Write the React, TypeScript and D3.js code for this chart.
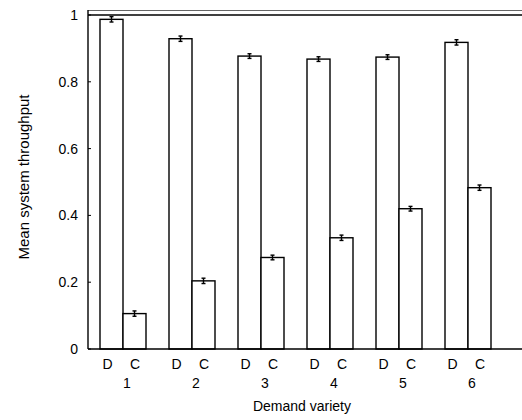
import React, { useEffect, useRef } from 'react';
import * as d3 from 'd3';

const varieties = ['1', '2', '3', '4', '5', '6'];
const modes = ['D', 'C'];
const meanD = [0.987, 0.929, 0.877, 0.868, 0.874, 0.918];
const meanC = [0.106, 0.204, 0.274, 0.333, 0.420, 0.483];
const errD = [0.008, 0.008, 0.007, 0.007, 0.007, 0.008];
const errC = [0.008, 0.008, 0.007, 0.008, 0.007, 0.008];
const yTicks = [0, 0.2, 0.4, 0.6, 0.8, 1];

const W = 522;
const H = 420;
const FONT = '"Liberation Sans", Arial, Helvetica, sans-serif';

const App = () => {
  const ref = useRef<SVGSVGElement>(null);

  useEffect(() => {
    const svg = d3.select(ref.current);
    svg.selectAll('*').remove();

    const axisX = 88;
    const frameTop = 10;

    const y = d3.scaleLinear().domain([0, 1]).range([349, 15]);
    const x0 = d3.scaleBand().domain(varieties).range([100, 491]).paddingInner(1 / 3).paddingOuter(0);
    const x1 = d3.scaleBand().domain(modes).range([0, x0.bandwidth()]);

    const rows = varieties.flatMap((v, i) => [
      { v, m: 'D', val: meanD[i], err: errD[i] },
      { v, m: 'C', val: meanC[i], err: errC[i] },
    ]);

    // bars
    svg.append('g')
      .selectAll('rect')
      .data(rows)
      .enter()
      .append('rect')
      .attr('x', d => x0(d.v)! + x1(d.m)!)
      .attr('y', d => y(d.val))
      .attr('width', x1.bandwidth())
      .attr('height', d => y(0) - y(d.val))
      .attr('fill', '#fff')
      .attr('stroke', '#000')
      .attr('stroke-width', 1.4);

    // error bars
    const eb = svg.append('g').attr('stroke', '#000').attr('stroke-width', 1.4);
    rows.forEach(d => {
      const cx = x0(d.v)! + x1(d.m)! + x1.bandwidth() / 2;
      eb.append('line').attr('x1', cx).attr('x2', cx).attr('y1', y(d.val - d.err)).attr('y2', y(d.val + d.err));
      eb.append('line').attr('x1', cx - 2).attr('x2', cx + 2).attr('y1', y(d.val - d.err)).attr('y2', y(d.val - d.err));
      eb.append('line').attr('x1', cx - 2).attr('x2', cx + 2).attr('y1', y(d.val + d.err)).attr('y2', y(d.val + d.err));
    });

    // frame / axes
    svg.append('line').attr('x1', axisX).attr('x2', W).attr('y1', frameTop + 0.5).attr('y2', frameTop + 0.5)
      .attr('stroke', '#666').attr('stroke-width', 1);
    svg.append('line').attr('x1', axisX).attr('x2', W).attr('y1', y(1)).attr('y2', y(1))
      .attr('stroke', '#000').attr('stroke-width', 1.3);
    svg.append('line').attr('x1', axisX).attr('x2', axisX).attr('y1', frameTop).attr('y2', y(0))
      .attr('stroke', '#000').attr('stroke-width', 1.4);
    svg.append('line').attr('x1', axisX).attr('x2', W).attr('y1', y(0)).attr('y2', y(0))
      .attr('stroke', '#000').attr('stroke-width', 1.6);

    // y ticks
    const yt = svg.append('g').attr('font-family', FONT).attr('font-size', 14);
    yTicks.forEach(t => {
      yt.append('line').attr('x1', axisX).attr('x2', axisX + 3).attr('y1', y(t)).attr('y2', y(t))
        .attr('stroke', '#000').attr('stroke-width', 1);
      yt.append('text').attr('x', 78).attr('y', y(t)).attr('dy', '0.36em')
        .attr('text-anchor', 'end').text(d3.format('~g')(t));
    });

    // x labels
    const xt = svg.append('g').attr('font-family', FONT).attr('font-size', 14).attr('text-anchor', 'middle');
    varieties.forEach(v => {
      const gx = x0(v)!;
      xt.append('text').attr('x', gx + x1('D')! + x1.bandwidth() / 2 - 4).attr('y', 369).text('D');
      xt.append('text').attr('x', gx + x1('C')! + x1.bandwidth() / 2 + 0.5).attr('y', 369).text('C');
      xt.append('text').attr('x', gx + x0.bandwidth() / 2 + 4).attr('y', 388).text(v);
    });

    svg.append('text').attr('x', 302).attr('y', 411).attr('text-anchor', 'middle')
      .attr('font-family', FONT).attr('font-size', 14).text('Demand variety');

    svg.append('text').attr('transform', 'translate(29,177) rotate(-90)').attr('text-anchor', 'middle')
      .attr('font-family', FONT).attr('font-size', 15).text('Mean system throughput');
  }, []);

  return (
    <svg ref={ref} width={W} height={H} style={{ position: 'absolute', left: 0, top: 0, background: '#fff' }} />
  );
};

export default App;
